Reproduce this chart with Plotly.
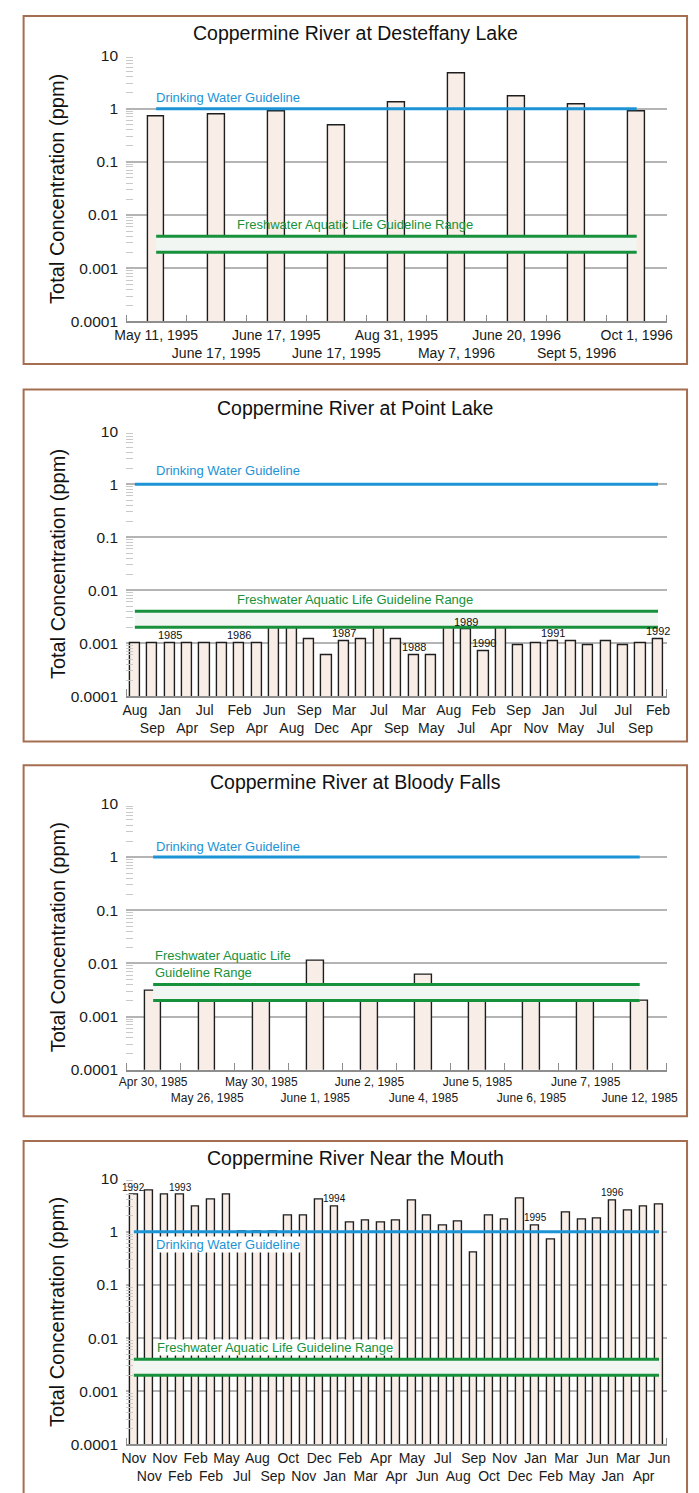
import math
import plotly.graph_objects as go

W, H = 699, 1493
FONT = "Liberation Sans, Arial, Helvetica, sans-serif"

# ---------------- data ----------------
y_tick_values = [0.0001, 0.001, 0.01, 0.1, 1, 10]
y_tick_labels = ["0.0001", "0.001", "0.01", "0.1", "1", "10"]

drinking_water_guideline = 1.0
aquatic_low = 0.002
aquatic_high = 0.004

desteffany_dates = ["May 11, 1995", "June 17, 1995", "June 17, 1995", "June 17, 1995",
                    "Aug 31, 1995", "May 7, 1996", "June 20, 1996", "Sept 5, 1996", "Oct 1, 1996"]
desteffany_values = [0.70, 0.78, 0.90, 0.49, 1.29, 4.5, 1.7, 1.19, 0.90]

point_lake_months = ["Aug", "Sep", "Jan", "Apr", "Jul", "Sep", "Feb", "Apr", "Jun", "Aug",
                     "Sep", "Dec", "Mar", "Apr", "Jul", "Sep", "Mar", "May", "Aug", "Jul",
                     "Feb", "Apr", "Sep", "Nov", "Jan", "May", "Jul", "Jul", "Jul", "Sep", "Feb"]
point_lake_values = [0.001, 0.001, 0.001, 0.001, 0.001, 0.001, 0.001, 0.001, 0.002, 0.002,
                     0.0012, 0.0006, 0.0011, 0.0012, 0.0028, 0.0012, 0.0006, 0.0006, 0.0024, 0.0018,
                     0.0007, 0.0022, 0.0009, 0.001, 0.0011, 0.0011, 0.0009, 0.0011, 0.0009, 0.001, 0.0012]
point_lake_years = {2: "1985", 6: "1986", 12: "1987", 16: "1988", 19: "1989",
                    20: "1990", 24: "1991", 30: "1992"}

bloody_dates = ["Apr 30, 1985", "May 26, 1985", "May 30, 1985", "June 1, 1985", "June 2, 1985",
                "June 4, 1985", "June 5, 1985", "June 6, 1985", "June 7, 1985", "June 12, 1985"]
bloody_values = [0.003, 0.002, 0.003, 0.011, 0.004, 0.006, 0.004, 0.003, 0.003, 0.002]

mouth_months = ["Nov", "Nov", "Nov", "Feb", "Feb", "Feb", "May", "Jul", "Aug", "Sep",
                "Oct", "Nov", "Dec", "Jan", "Feb", "Mar", "Apr", "Apr", "May", "Jun",
                "Jul", "Aug", "Sep", "Oct", "Nov", "Dec", "Jan", "Feb", "Mar", "May",
                "Jun", "Jan", "Mar", "Apr", "Jun"]
mouth_values = [5.0, 6.0, 5.0, 5.0, 3.0, 4.1, 5.0, 1.0, 1.0, 1.0,
                2.0, 2.0, 4.0, 3.0, 1.5, 1.6, 1.5, 1.6, 3.9, 2.0,
                1.33, 1.53, 0.41, 2.0, 1.7, 4.2, 1.33, 0.7, 2.3, 1.7,
                1.8, 3.9, 2.45, 3.0, 3.3]
mouth_years = {0: "1992", 3: "1993", 13: "1994", 26: "1995", 31: "1996"}

# ---------------- styles ----------------
BAR_FILL = "#f8ede7"
BAR_LINE = "#1e1e1e"
BLUE = "#1b93d5"
GREEN = "#17913b"
BAND = "#f2f6f2"
GRID = "#b4b4b4"
BORDER = "#a66e50"
AXIS = "#8e8e8e"

X_LEFT, X_RIGHT = 118, 677

panels = [
    dict(title="Coppermine River at Desteffany Lake", labels=desteffany_dates, values=desteffany_values,
         years={}, top=47, bottom=316, box=(7, 359), title_y=24, tickfont=14, barw=0.28,
         boundary=True, blue=(148, 90, False), green=(232, 218, False), green_text="Freshwater Aquatic Life Guideline Range",
         yearfont=11),
    dict(title="Coppermine River at Point Lake", labels=point_lake_months, values=point_lake_values,
         years=point_lake_years, top=427, bottom=695, box=(385, 741), title_y=404, tickfont=14, barw=0.58,
         boundary=False, blue=(148, 467, False), green=(232, 597, False), green_text="Freshwater Aquatic Life Guideline Range",
         yearfont=11),
    dict(title="Coppermine River at Bloody Falls", labels=bloody_dates, values=bloody_values,
         years={}, top=804, bottom=1073, box=(765, 1120), title_y=782, tickfont=12, barw=0.31,
         boundary=True, blue=(148, 847, False), green=(147, 966, False), green_text="Freshwater Aquatic Life<br>Guideline Range",
         yearfont=11),
    dict(title="Coppermine River Near the Mouth", labels=mouth_months, values=mouth_values,
         years=mouth_years, top=1183, bottom=1452, box=(1145, 1510), title_y=1162, tickfont=14, barw=0.5,
         boundary=False, blue=(148, 1250, True), green=(149, 1354, True), green_text="Freshwater Aquatic Life Guideline Range",
         yearfont=10),
]

fig = go.Figure()
annotations = []
shapes = []
minor_y = [m * 10 ** e for e in range(-4, 1) for m in range(2, 10)]

for k, p in enumerate(panels):
    sfx = "" if k == 0 else str(k + 1)
    xref, yref = "x" + sfx, "y" + sfx
    n = len(p["values"])
    xs = list(range(n))
    ends = [xs[0], xs[-1]]

    # guideline band (behind the bars)
    fig.add_trace(go.Scatter(x=ends, y=[aquatic_low] * 2, mode="lines", line=dict(width=0),
                             xaxis=xref, yaxis=yref, hoverinfo="skip", showlegend=False))
    fig.add_trace(go.Scatter(x=ends, y=[aquatic_high] * 2, mode="lines", line=dict(width=0),
                             fill="tonexty", fillcolor=BAND,
                             xaxis=xref, yaxis=yref, hoverinfo="skip", showlegend=False))
    # bars
    fig.add_trace(go.Bar(x=xs, y=p["values"], width=p["barw"],
                         marker=dict(color=BAR_FILL, line=dict(color=BAR_LINE, width=1.4)),
                         xaxis=xref, yaxis=yref, showlegend=False))
    # guideline lines
    for gv in (aquatic_high, aquatic_low):
        fig.add_trace(go.Scatter(x=ends, y=[gv] * 2, mode="lines", line=dict(color=GREEN, width=3),
                                 xaxis=xref, yaxis=yref, hoverinfo="skip", showlegend=False))
    fig.add_trace(go.Scatter(x=ends, y=[drinking_water_guideline] * 2, mode="lines",
                             line=dict(color=BLUE, width=3),
                             xaxis=xref, yaxis=yref, hoverinfo="skip", showlegend=False))

    ticktext = [lab if i % 2 == 0 else "<br>" + lab for i, lab in enumerate(p["labels"])]
    minor_x = [i - 0.5 for i in range(n + 1)] if p["boundary"] else [-0.5, n - 0.5]

    fig.update_layout(**{
        "xaxis" + sfx: dict(domain=[X_LEFT / W, X_RIGHT / W], range=[-0.5, n - 0.5], anchor=yref,
                            tickvals=xs, ticktext=ticktext, ticks="", showgrid=False, zeroline=False,
                            showline=True, linecolor=AXIS, linewidth=1.5, tickangle=0,
                            tickfont=dict(size=p["tickfont"], color="#1a1a1a"),
                            minor=dict(tickvals=minor_x, ticks="inside", ticklen=7,
                                       tickcolor=AXIS, tickwidth=1.2, showgrid=False),
                            fixedrange=True),
        "yaxis" + sfx: dict(type="log", domain=[1 - p["bottom"] / H, 1 - p["top"] / H],
                            range=[-4, 1], anchor=xref, tickvals=y_tick_values, ticktext=y_tick_labels,
                            ticks="", showgrid=True, gridcolor=GRID, gridwidth=1.5,
                            showline=False, zeroline=False, ticklabelstandoff=7,
                            tickfont=dict(size=15.5, color="#1a1a1a"),
                            minor=dict(tickvals=minor_y, ticks="inside", ticklen=7,
                                       tickcolor="#c9c9c9", tickwidth=1, showgrid=False),
                            fixedrange=True),
    })

    # panel frame
    shapes.append(dict(type="rect", xref="paper", yref="paper", x0=12 / W, x1=698 / W,
                       y0=1 - p["box"][1] / H, y1=1 - p["box"][0] / H,
                       line=dict(color=BORDER, width=2), fillcolor="rgba(0,0,0,0)", layer="below"))
    # panel title
    annotations.append(dict(text=p["title"], xref="paper", yref="paper", x=355 / W, y=1 - p["title_y"] / H,
                            xanchor="center", yanchor="middle", showarrow=False,
                            font=dict(size=19.5, color="#111")))
    # y-axis title
    annotations.append(dict(text="Total Concentration (ppm)", xref="paper", yref="paper",
                            x=47 / W, y=1 - (p["top"] + p["bottom"]) / 2 / H, textangle=-90,
                            xanchor="center", yanchor="middle", showarrow=False,
                            font=dict(size=20, color="#111")))
    # guideline labels
    bx, by, bbg = p["blue"]
    annotations.append(dict(text="Drinking Water Guideline", xref="paper", yref="paper",
                            x=bx / W, y=1 - by / H, xanchor="left", yanchor="middle", showarrow=False,
                            font=dict(size=13, color=BLUE), bgcolor="white" if bbg else None, borderpad=0))
    gx, gy, gbg = p["green"]
    annotations.append(dict(text=p["green_text"], xref="paper", yref="paper", align="left",
                            x=gx / W, y=1 - gy / H, xanchor="left", yanchor="middle", showarrow=False,
                            font=dict(size=13, color=GREEN), bgcolor="white" if gbg else None, borderpad=0))
    # year markers above bars
    for idx, yr in p["years"].items():
        annotations.append(dict(text=yr, xref=xref, yref=yref, x=idx, y=math.log10(p["values"][idx]),
                                xanchor="center", yanchor="bottom", showarrow=False,
                                font=dict(size=p["yearfont"], color="#111")))

fig.update_layout(width=W, height=H, margin=dict(l=0, r=0, t=0, b=0),
                  paper_bgcolor="white", plot_bgcolor="white", showlegend=False,
                  font=dict(family=FONT, color="#1a1a1a"), bargap=0,
                  annotations=annotations, shapes=shapes)

fig.write_html("out.html", config={"displayModeBar": False},
               post_script="document.body.style.margin='0';document.body.style.padding='0';"
                           "document.body.style.overflow='hidden';"
                           "document.documentElement.style.overflow='hidden';")
